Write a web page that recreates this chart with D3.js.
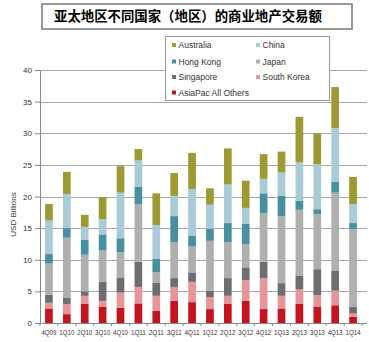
<!DOCTYPE html>
<html><head><meta charset="utf-8">
<script src="https://cdn.jsdelivr.net/npm/d3@7/dist/d3.min.js"></script>
<style>
html,body{margin:0;padding:0;background:#fff;}
svg{display:block;}
</style></head>
<body>
<svg id="chart" width="369" height="342"></svg>
<script>
const title = "亚太地区不同国家（地区）的商业地产交易额";
const categories = ["4Q09","1Q10","2Q10","3Q10","4Q10","1Q11","2Q11","3Q11","4Q11","1Q12","2Q12","3Q12","4Q12","1Q13","2Q13","3Q13","4Q13","1Q14"];
const seriesNames = ["AsiaPac All Others","South Korea","Singapore","Japan","Hong Kong","China","Australia"];
const asiaPacOthers = [2.3,1.4,3.0,2.6,2.4,3.1,1.9,3.5,3.3,2.2,3.0,3.5,2.2,2.3,3.0,2.6,2.8,1.0];
const southKorea    = [0.9,1.6,1.3,0.9,2.4,2.6,2.4,2.2,3.2,1.9,1.3,3.3,4.9,2.0,2.3,1.8,2.3,0.5];
const singapore     = [1.3,1.0,0.7,3.0,2.4,4.0,2.1,1.4,1.5,1.0,2.8,2.0,2.6,2.0,2.2,4.1,3.2,1.1];
const japan         = [4.9,9.5,5.8,5.0,4.0,9.1,1.6,5.7,4.1,7.9,5.7,3.7,7.7,10.6,10.4,8.7,12.3,12.3];
const hongKong      = [1.5,1.5,2.4,2.5,2.2,2.7,2.2,4.1,1.7,1.9,3.0,3.2,3.1,3.2,1.4,0.8,1.7,0.9];
const china         = [5.3,5.4,2.0,2.4,7.2,4.2,5.3,3.2,7.4,3.8,6.1,2.5,2.3,3.7,6.1,7.1,8.5,3.0];
const australia     = [2.6,3.5,1.9,3.5,4.2,1.8,5.0,3.6,5.7,2.6,5.7,4.3,3.9,3.3,7.2,4.9,6.5,4.3];
const yTicks = [0,5,10,15,20,25,30,35,40];
const yLabel = "USD Billions";
const legendOrder = ["Australia","China","Hong Kong","Japan","Singapore","South Korea","AsiaPac All Others"];

const colors = {
  "AsiaPac All Others":"#c3141f",
  "South Korea":"#e6959a",
  "Singapore":"#6e6e70",
  "Japan":"#afafaf",
  "Hong Kong":"#46909f",
  "China":"#a9cbd7",
  "Australia":"#9d9a33"
};
const valuesBy = {
  "AsiaPac All Others":asiaPacOthers,"South Korea":southKorea,"Singapore":singapore,
  "Japan":japan,"Hong Kong":hongKong,"China":china,"Australia":australia
};
const table = categories.map((c,i)=>{
  const o={cat:c};
  seriesNames.forEach(s=>o[s]=valuesBy[s][i]);
  return o;
});

const svg = d3.select("#chart");
const plotL = 40, plotR = 362, gridR = 367, plotT = 70, plotB = 323;

const x = d3.scaleBand().domain(categories).range([plotL, plotR]).paddingInner(0.57).paddingOuter(0.285);
const xEdge = d3.scaleBand().domain(categories).range([plotL, plotR]).padding(0);
const y = d3.scaleLinear().domain([0,40]).range([plotB, plotT]);

// grid
svg.append("g").selectAll("line").data(yTicks.filter(d=>d>0)).join("line")
  .attr("x1",plotL).attr("x2",gridR)
  .attr("y1",d=>Math.round(y(d))+0.5).attr("y2",d=>Math.round(y(d))+0.5)
  .attr("stroke","#a8a8a8").attr("stroke-width",1);

// bars
const stack = d3.stack().keys(seriesNames)(table);
svg.append("g").selectAll("g").data(stack).join("g")
  .attr("fill",d=>colors[d.key])
  .selectAll("rect").data(d=>d).join("rect")
  .attr("x",d=>x(d.data.cat))
  .attr("width",x.bandwidth())
  .attr("y",d=>y(d[1]))
  .attr("height",d=>y(d[0])-y(d[1]));

// y axis
const yAx = svg.append("g").attr("transform",`translate(${plotL},0)`)
  .call(d3.axisLeft(y).tickValues(yTicks).tickSize(5).tickPadding(3).tickSizeOuter(0));
yAx.select(".domain").attr("stroke","#888");
yAx.selectAll(".tick line").attr("stroke","#888");
yAx.selectAll("text").attr("font-family","Liberation Sans, Arial, sans-serif").attr("font-size","8px").attr("fill","#333");

svg.append("text").attr("transform",`translate(16,${(plotT+plotB)/2+18}) rotate(-90)`)
  .attr("text-anchor","middle").attr("font-family","Liberation Sans, Arial, sans-serif")
  .attr("font-size","8px").attr("fill","#333").text(yLabel);

// x axis
const xAx = svg.append("g").attr("transform",`translate(0,${plotB})`)
  .call(d3.axisBottom(x).tickSize(0).tickPadding(7).tickSizeOuter(0));
xAx.select(".domain").attr("d",`M${plotL},0.5H${gridR}`).attr("stroke","#888");
xAx.selectAll("text").attr("font-family","Liberation Sans, Arial, sans-serif").attr("font-size","7px").attr("fill","#333")
  .attr("textLength",15).attr("lengthAdjust","spacingAndGlyphs");
svg.append("g").selectAll("line").data(categories.concat(["__end"])).join("line")
  .attr("x1",(d,i)=>plotL+i*xEdge.step()).attr("x2",(d,i)=>plotL+i*xEdge.step())
  .attr("y1",plotB).attr("y2",plotB+3).attr("stroke","#888");

// title box
svg.append("rect").attr("x",42).attr("y",4).attr("width",310).attr("height",25)
  .attr("fill","none").attr("stroke","#777").attr("stroke-width",1.5);
svg.append("line").attr("x1",352.5).attr("x2",352.5).attr("y1",5).attr("y2",30).attr("stroke","#999").attr("stroke-width",1);
svg.append("text").attr("x",54).attr("y",21)
  .attr("font-family","Noto Sans CJK SC, sans-serif").attr("font-weight","bold")
  .attr("font-size","13.4px").attr("fill","#000").text(title);

// legend
const lg = svg.append("g");
lg.append("rect").attr("x",165.5).attr("y",36.5).attr("width",164).attr("height",64)
  .attr("fill","#fff").attr("stroke","#999");
const rowsY = [45,61.5,77,92.5];
legendOrder.forEach((s,i)=>{
  const col = i%2, row = Math.floor(i/2);
  const lx = col===0 ? 172 : 256;
  const ly = rowsY[row];
  lg.append("rect").attr("x",lx).attr("y",ly-2).attr("width",4).attr("height",4).attr("fill",colors[s]);
  lg.append("text").attr("x",lx+6.5).attr("y",ly+3)
    .attr("font-family","Liberation Sans, Arial, sans-serif").attr("font-size","8.5px").attr("fill","#333").text(s);
});
</script>
</body></html>
